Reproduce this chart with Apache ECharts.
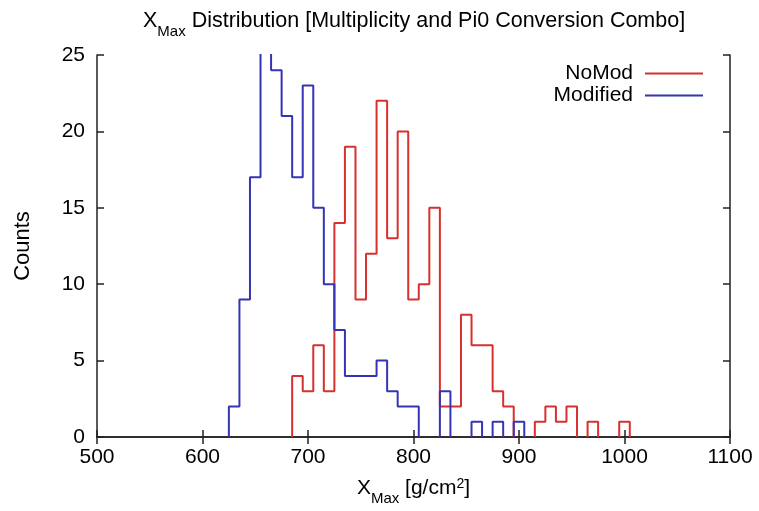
<!DOCTYPE html>
<html>
<head>
<meta charset="utf-8">
<script src="https://cdn.jsdelivr.net/npm/echarts@6/dist/echarts.min.js"></script>
<style>
html,body{margin:0;padding:0;background:#fff;}
#chart{width:759px;height:511px;}
</style>
</head>
<body>
<div id="chart"></div>
<script>
// Bin centers (g/cm^2), bin width 10
const binWidth = 10;
const nomodCenters = [690,700,710,720,730,740,750,760,770,780,790,800,810,820,830,840,850,860,870,880,890,900,910,920,930,940,950,960,970,980,990,1000];
const nomodCounts  = [4,3,6,3,14,19,9,12,22,13,20,9,10,15,2,2,8,6,6,3,2,0,0,1,2,1,2,0,1,0,0,1];
const modCenters = [630,640,650,660,670,680,690,700,710,720,730,740,750,760,770,780,790,800,810,820,830,840,850,860,870,880,890,900];
const modCounts  = [2,9,17,26,24,21,17,23,15,10,7,4,4,4,5,3,2,2,0,0,3,0,0,1,0,1,0,1];
const seriesNames = ['NoMod','Modified'];
const xTicks = [500,600,700,800,900,1000,1100];
const yTicks = [0,5,10,15,20,25];

function stepPoints(centers, counts, w) {
  const pts = [];
  let prevZero = true;
  for (let i = 0; i < centers.length; i++) {
    const c = counts[i];
    const left = centers[i] - w / 2;
    if (c === 0) {
      if (!prevZero) { pts.push([left, 0]); pts.push([left, null]); }
      prevZero = true;
      continue;
    }
    if (prevZero) pts.push([left, 0]);
    pts.push([left, c]);
    prevZero = false;
  }
  if (!prevZero) pts.push([centers[centers.length - 1] + w / 2, 0]);
  return pts;
}

const FONT = '"Liberation Sans", Arial, Helvetica, sans-serif';
const xMin = xTicks[0], xMax = xTicks[xTicks.length - 1];
const xInt = xTicks[1] - xTicks[0];
const yMin = yTicks[0], yMax = yTicks[yTicks.length - 1];
const yInt = yTicks[1] - yTicks[0];

const frame = {show: true, lineStyle: {color: '#222', width: 1.5}};
const tick = {show: true, inside: true, length: 7, lineStyle: {color: '#222', width: 1.5}};
const plain = v => String(v);

const chart = echarts.init(document.getElementById('chart'), null, {renderer: 'canvas'});
chart.setOption({
  animation: false,
  backgroundColor: '#fff',
  title: {
    text: '{n|X}{s|Max}{n| Distribution [Multiplicity and Pi0 Conversion Combo]}',
    left: 138, top: 5,
    textStyle: {fontFamily: FONT, fontWeight: 'normal', fontSize: 21.5, color: '#000', rich: {
      n: {fontSize: 21.5, lineHeight: 22, verticalAlign: 'top', fontFamily: FONT, color: '#000'},
      s: {fontSize: 15, lineHeight: 15, padding: [14.5, 0, 0, 0], verticalAlign: 'top', fontFamily: FONT, color: '#000'}
    }}
  },
  legend: {
    data: seriesNames,
    orient: 'vertical',
    right: 51, top: 58,
    align: 'right',
    icon: 'rect',
    itemWidth: 58, itemHeight: 2, itemGap: 1,
    textStyle: {fontFamily: FONT, fontSize: 21, color: '#000', padding: [0, 7, 0, 0]}
  },
  grid: {left: 97, right: 29, top: 55, bottom: 68, containLabel: false},
  xAxis: [{
    type: 'value', min: xMin, max: xMax, interval: xInt,
    position: 'bottom',
    axisLine: frame, axisTick: tick,
    splitLine: {show: false},
    axisLabel: {fontFamily: FONT, fontSize: 21, color: '#000', margin: 10, formatter: plain},
    name: '{n|X}{s|Max}{n| [g/cm}{p|2}{n|]}',
    nameLocation: 'middle', nameGap: 38,
    nameTextStyle: {fontFamily: FONT, fontSize: 21, color: '#000', rich: {
      n: {fontSize: 21, lineHeight: 21, padding: [3, 0, 0, 0], verticalAlign: 'top', fontFamily: FONT, color: '#000'},
      s: {fontSize: 15, lineHeight: 15, padding: [16, 0, 0, 0], verticalAlign: 'top', fontFamily: FONT, color: '#000'},
      p: {fontSize: 14, lineHeight: 14, padding: [2, 0, 0, 0], verticalAlign: 'top', fontFamily: FONT, color: '#000'}
    }}
  }, {
    type: 'value', min: xMin, max: xMax, interval: xInt,
    position: 'top',
    axisLine: frame, axisTick: tick,
    splitLine: {show: false}, axisLabel: {show: false}
  }],
  yAxis: [{
    type: 'value', min: yMin, max: yMax, interval: yInt,
    position: 'left',
    axisLine: frame, axisTick: tick,
    splitLine: {show: false},
    axisLabel: {fontFamily: FONT, fontSize: 21, color: '#000', margin: 12, formatter: plain},
    name: 'Counts', nameLocation: 'middle', nameGap: 63,
    nameTextStyle: {fontFamily: FONT, fontSize: 22, color: '#000'}
  }, {
    type: 'value', min: yMin, max: yMax, interval: yInt,
    position: 'right',
    axisLine: frame, axisTick: tick,
    splitLine: {show: false}, axisLabel: {show: false}
  }],
  series: [{
    name: seriesNames[0], type: 'line', step: 'end',
    xAxisIndex: 0, yAxisIndex: 0,
    data: stepPoints(nomodCenters, nomodCounts, binWidth),
    showSymbol: false, symbol: 'none', connectNulls: false, clip: true,
    color: '#d8302e',
    lineStyle: {color: '#d8302e', width: 2}
  }, {
    name: seriesNames[1], type: 'line', step: 'end',
    xAxisIndex: 0, yAxisIndex: 0,
    data: stepPoints(modCenters, modCounts, binWidth),
    showSymbol: false, symbol: 'none', connectNulls: false, clip: true,
    color: '#3534b4',
    lineStyle: {color: '#3534b4', width: 2}
  }]
});
</script>
</body>
</html>
